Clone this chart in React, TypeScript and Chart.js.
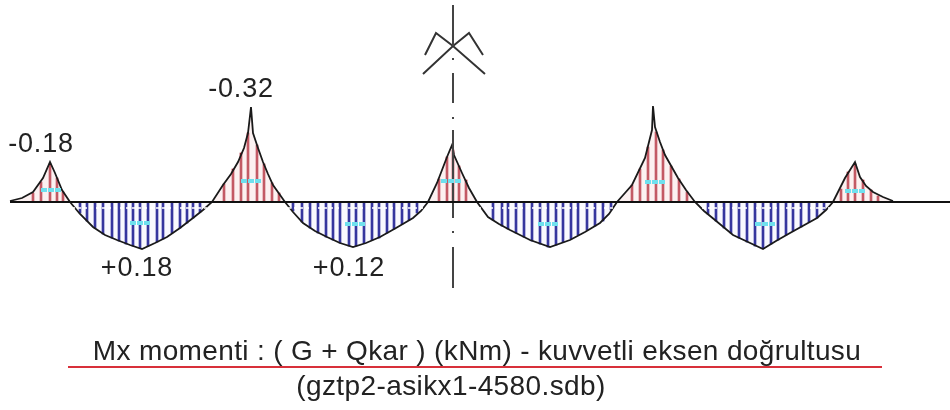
import React, { useEffect, useRef } from "react";
import { Chart, registerables } from "chart.js";

Chart.register(...registerables);

// Moment diagram (drawing units above / below the beam axis)
const curveX = [10, 22, 33, 43, 50, 55, 62, 70, 80, 93, 105, 117, 130, 142, 155, 167, 180, 193, 203, 212, 223, 231, 238, 244, 248, 251, 253, 258, 263, 268, 273, 285, 293, 303, 315, 327, 340, 353, 366, 380, 396, 413, 421, 428, 437, 447, 452, 454, 462, 469, 477, 488, 499, 510, 530, 550, 570, 585, 600, 609, 617, 632, 645, 652, 653, 655, 660, 665, 678, 686, 695, 704, 715, 733, 748, 763, 776, 790, 817, 826, 833, 845, 855, 860, 866, 873, 883, 893];
const curveY = [1, 4, 10, 24, 40, 29, 12, 0, -12, -25, -33, -38, -43, -47, -41, -35, -26, -16, -8, 0, 17, 28, 40, 54, 69, 95, 69, 54, 40, 28, 17, 0, -10, -21, -29, -35, -41, -45, -41, -35, -26, -16, -9, 0, 19, 45, 57, 47, 29, 14, 0, -15, -22, -28, -38, -45, -38, -30, -21, -12, 0, 17, 44, 72, 96, 75, 60, 47, 24, 12, 0, -9, -18, -33, -40, -47, -39, -31, -16, -8, 0, 24, 40, 25, 16, 10, 5, 1];

const redX = [33, 41, 50, 57, 63, 224, 233, 241, 248, 257, 264, 272, 279, 439, 447, 453, 459, 466, 632, 640, 648, 656, 663, 671, 679, 687, 841, 848, 855, 863, 871, 878];
const redY = [9, 20, 38, 24, 10, 18, 33, 49, 69, 57, 38, 19, 9, 23, 45, 52, 36, 22, 17, 33, 55, 70, 52, 36, 23, 10, 13, 30, 38, 22, 12, 6];

const blueX = [80, 87, 95, 103, 112, 119, 126, 133, 140, 148, 157, 163, 172, 180, 187, 193, 200, 293, 302, 310, 318, 326, 333, 340, 349, 356, 364, 372, 379, 387, 394, 402, 409, 417, 493, 502, 508, 516, 524, 532, 540, 548, 556, 563, 571, 578, 587, 595, 603, 611, 708, 716, 724, 731, 739, 747, 755, 763, 771, 778, 786, 793, 801, 809, 817, 824];
const blueY = [-11, -19, -26, -32, -36, -39, -42, -44, -46, -44, -40, -37, -31, -26, -21, -16, -10, -9, -20, -26, -31, -35, -38, -41, -44, -44, -41, -38, -36, -31, -27, -22, -18, -11, -18, -24, -27, -31, -35, -39, -42, -45, -43, -40, -37, -33, -28, -24, -19, -8, -12, -19, -26, -31, -36, -40, -44, -46, -42, -38, -33, -29, -25, -20, -16, -8];

const baselineX = [10, 950];
const symbolAX = [423, 453, 485];
const symbolAY = [128, 156, 128];
const symbolBX = [425, 436, 453, 469, 483];
const symbolBY = [147, 169, 156, 169, 147];
const centreX = [453, 453, null, 453, 453, null, 453, 453, null, 453, 453, null, 453, 453, null, 453, 453];
const centreY = [197, 156, null, 144, 142, null, 129, 99, null, 85, 83, null, 72, -16, null, -29, -31];
const centreLowX = [453, 453];
const centreLowY = [-45, -86];

const tagX = [51, 140, 251, 355, 451, 548, 655, 765, 855];
const tagY = [12, -21, 21, -22, 21, -22, 20, -22, 11];

const valueLabels = ["-0.18", "-0.32", "+0.18", "+0.12"];
const titleMain = "Mx momenti : ( G + Qkar ) (kNm) - kuvvetli eksen doğrultusu";
const titleSub = "(gztp2-asikx1-4580.sdb)";

const zip = (xs: (number | null)[], ys: (number | null)[]) =>
  xs.map((x, i) => ({ x: x as number, y: ys[i] as number }));

const thinLine = (data: any[], color: string, width: number, extra: any = {}) => ({
  type: "line" as const,
  data,
  borderColor: color,
  borderWidth: width,
  pointRadius: 0,
  tension: 0,
  fill: false,
  spanGaps: false,
  ...extra,
});

const tagSegments = tagX.flatMap((x, i) => [
  { x: x - 10, y: tagY[i] },
  { x: x + 10, y: tagY[i] },
  { x: null as any, y: null as any },
]);

const textPlugin = {
  id: "diagramText",
  afterDatasetsDraw(chart: any) {
    const { ctx, scales } = chart;
    const px = (x: number) => scales.x.getPixelForValue(x);
    const py = (y: number) => scales.y.getPixelForValue(y);
    const put = (t: string, x: number, y: number, size: number, spacing: string) => {
      ctx.font = `${size}px "Liberation Sans"`;
      (ctx as any).letterSpacing = spacing;
      ctx.fillStyle = "#222";
      ctx.textAlign = "center";
      ctx.textBaseline = "alphabetic";
      ctx.fillText(t, px(x), py(y));
    };
    ctx.save();
    put(valueLabels[0], 41, 50, 27, "0.8px");
    put(valueLabels[1], 241, 105, 27, "0.8px");
    put(valueLabels[2], 137, -74, 27, "0.8px");
    put(valueLabels[3], 349, -74, 27, "0.8px");
    put(titleMain, 477, -158, 28, "0.35px");
    put(titleSub, 451, -193, 28, "0.4px");
    ctx.restore();
  },
};

export default function App() {
  const ref = useRef<HTMLCanvasElement>(null);
  useEffect(() => {
    const chart = new Chart(ref.current!, {
      type: "bar",
      data: {
        datasets: [
          thinLine(zip(curveX, curveY), "#1a1a1a", 1.8, {
            order: 1,
            fill: { target: "origin", above: "rgba(245,215,215,0.35)", below: "rgba(225,225,250,0.2)" },
          }),
          { type: "bar", data: zip(redX, redY), backgroundColor: "#a81828", barThickness: 2, grouped: false, order: 3 },
          { type: "bar", data: zip(blueX, blueY), backgroundColor: "#0c0c88", barThickness: 2, grouped: false, order: 3 },
          thinLine(zip(baselineX, [0, 0]), "#111", 2, { order: 0 }),
          thinLine(zip([72, 212], [-6, -6]), "#ffffff", 1.5, { borderDash: [3, 3], order: 0 }),
          thinLine(zip([288, 428], [-6, -6]), "#ffffff", 1.5, { borderDash: [3, 3], order: 0 }),
          thinLine(zip([478, 617], [-6, -6]), "#ffffff", 1.5, { borderDash: [3, 3], order: 0 }),
          thinLine(zip([696, 833], [-6, -6]), "#ffffff", 1.5, { borderDash: [3, 3], order: 0 }),
          thinLine(tagSegments, "#6fe0ee", 4, { borderDash: [6, 1], order: 0 }),
          thinLine(zip(centreX, centreY), "#444", 2, { order: 0 }),
          thinLine(zip(centreLowX, centreLowY), "#444", 2, { order: 0 }),
          thinLine(zip(symbolAX, symbolAY), "#333", 2, { order: 0 }),
          thinLine(zip(symbolBX, symbolBY), "#333", 2, { order: 0 }),
          thinLine(zip([68, 882], [-165, -165]), "#d8303a", 2, { order: 0 }),
        ] as any,
      },
      options: {
        animation: false,
        responsive: false,
        events: [],
        layout: { padding: 0 },
        plugins: { legend: { display: false }, tooltip: { enabled: false }, title: { display: false } },
        scales: {
          x: { type: "linear", display: false, min: 0, max: 950, offset: false },
          y: { type: "linear", display: false, min: -208, max: 202 },
        },
      },
      plugins: [textPlugin],
    });
    return () => chart.destroy();
  }, []);
  return (
    <div style={{ position: "absolute", left: 0, top: 0, width: 950, height: 410, background: "#fff" }}>
      <canvas ref={ref} width={950} height={410} style={{ display: "block", filter: "blur(0.6px)" }} />
    </div>
  );
}
